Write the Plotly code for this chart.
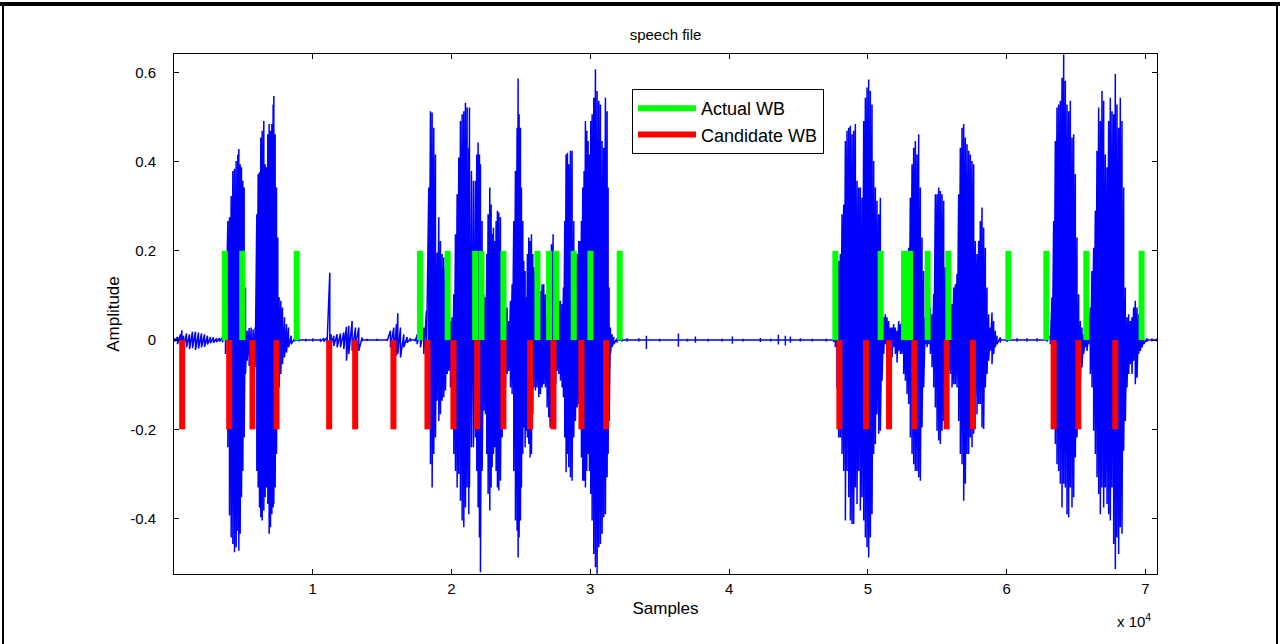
import plotly.graph_objects as go

# ---- speech waveform envelope (sample index, positive peak, negative peak)
WAVE_X = [
    36, 252, 468, 564, 685, 901, 1117, 1333, 1549, 1765, 1982, 2198, 2414, 2630, 2846, 3063, 3279, 3495, 3711,
    3879, 3999, 4119, 4240, 4360, 4480, 4600, 4672, 4768, 4864, 4960, 5056, 5152, 5272, 5416, 5561, 5705, 5849,
    5969, 6065, 6161, 6257, 6353, 6473, 6569, 6665, 6762, 6858, 6954, 7050, 7146, 7194, 7290, 7386, 7482, 7578,
    7698, 7818, 7963, 8107, 8251, 8443, 8683,
    9000, 9500, 10000, 10555,
    10795, 11035, 11228, 11324, 11516, 11756, 11996, 12236, 12429, 12597, 12837, 13077, 13317, 13558, 13918,
    14638, 15359, 15599, 15839, 16032, 16128, 16320, 16560, 16800, 17040, 17400, 17521, 17761, 18001, 18193,
    18362, 18482, 18602, 18722, 18842, 18962, 19082, 19202, 19322, 19442, 19563, 19683, 19803, 19923, 20043,
    20163, 20283, 20403, 20523, 20643, 20764, 20884, 21004, 21124, 21244,
    21291, 21435, 21579, 21724, 21820, 21916, 22012, 22084, 22204, 22324, 22444, 22540, 22636, 22756, 22853,
    22925, 23021, 23117, 23213, 23309, 23405, 23525, 23645, 23765, 23885, 24006, 24126, 24246, 24366, 24486,
    24606, 24726, 24798, 24870, 24966, 25038, 25134, 25207, 25303, 25375, 25471, 25567, 25663, 25759, 25855,
    25927, 26047, 26167, 26287, 26408, 26528, 26648, 26768, 26888, 27008, 27104, 27200, 27320, 27416, 27512,
    27609, 27729, 27849, 27969, 28065, 28161, 28257, 28353, 28449, 28569, 28689, 28810, 28930, 29050, 29170,
    29266, 29362, 29458, 29554, 29650, 29746, 29842, 29938, 30035, 30131, 30251, 30371, 30491, 30611, 30731,
    30851, 30971, 31091, 31212, 31284, 31356, 31452, 31572, 31692, 31932, 32292, 32653,
    33500, 34043, 35000, 36350, 37000, 37575, 38500, 39500, 40240, 41000, 42257, 43000, 43554, 44058, 44418,
    45139, 46000, 47000,
    47541, 47661, 47781, 47901, 48021, 48141, 48261, 48382, 48502, 48622, 48742, 48862, 48982, 49102, 49222,
    49342, 49462, 49583, 49703, 49823, 49943, 50063, 50183, 50303, 50423, 50543, 50663, 50784, 50904, 51024,
    51144, 51264, 51384, 51504, 51624, 51744, 51864, 51985, 52105, 52225, 52345, 52465, 52585, 52705, 52825,
    52945, 53065, 53186, 53306, 53426, 53546, 53666, 53786, 53906, 54026, 54146, 54266, 54387, 54507, 54627,
    54747, 54867, 54987, 55107, 55227, 55347, 55467, 55588, 55708, 55828, 55948, 56068, 56188, 56308, 56428,
    56548, 56668, 56789, 56909, 57029, 57149, 57269, 57389, 57509, 57629,
    57748, 57868, 57989, 58109, 58229, 58349, 58469, 58589, 58709, 58829, 58949, 59069, 59190, 59310, 59550,
    60030, 60751, 61471, 62192, 62913, 63153, 63273, 63393, 63513, 63633, 63753, 63873, 63994, 64114, 64234,
    64354, 64474, 64594, 64714, 64834, 64954, 65074, 65195, 65315, 65435, 65555, 65675, 65795, 65915, 66035,
    66155, 66275, 66396, 66516, 66636, 66756, 66876, 66996, 67116, 67236, 67356, 67476, 67597, 67717, 67837,
    67957, 68077, 68197, 68317, 68437, 68557, 68677, 68797, 68917, 69037, 69157, 69277, 69398, 69518, 69638,
    69758, 69878, 70118, 70478, 70838,
]
WAVE_UP = [
    0.004, 0.007, 0.013, 0.022, 0.010, 0.015, 0.013, 0.019, 0.019, 0.017, 0.015, 0.013, 0.010, 0.007, 0.006, 0.004, 0.004, 0.006, 0.043,
    0.267, 0.275, 0.323, 0.379, 0.384, 0.401, 0.416, 0.428, 0.394, 0.387, 0.357, 0.342, 0.118, 0.021, 0.027, 0.028, 0.024, 0.028,
    0.282, 0.372, 0.376, 0.454, 0.469, 0.491, 0.394, 0.387, 0.461, 0.484, 0.469, 0.484, 0.528, 0.547, 0.461, 0.342, 0.230, 0.096,
    0.088, 0.073, 0.051, 0.036, 0.028, 0.010, 0.004,
    0.004, 0.003, 0.004, 0.003,
    0.004, 0.006, 0.151, 0.013, 0.010, 0.013, 0.015, 0.017, 0.030, 0.032, 0.043, 0.028, 0.028, 0.006, 0.003,
    0.003, 0.003, 0.021, 0.028, 0.036, 0.060, 0.028, 0.013, 0.007, 0.004, 0.004, 0.013, 0.021, 0.028, 0.066,
    0.342, 0.513, 0.510, 0.476, 0.416, 0.196, 0.275, 0.222, 0.193, 0.185, 0.163, 0.103, 0.058, 0.043, 0.051,
    0.103, 0.237, 0.327, 0.409, 0.491, 0.506, 0.513, 0.532, 0.521, 0.431,
    0.521, 0.379, 0.357, 0.357, 0.416, 0.443, 0.416, 0.394, 0.267, 0.103, 0.096, 0.193, 0.282, 0.342, 0.304,
    0.237, 0.252, 0.222, 0.267, 0.290, 0.286, 0.275, 0.193, 0.118, 0.118, 0.073, 0.043, 0.088, 0.125, 0.267,
    0.379, 0.476, 0.586, 0.506, 0.476, 0.342, 0.267, 0.178, 0.155, 0.096, 0.193, 0.230, 0.222, 0.237, 0.193,
    0.163, 0.155, 0.133, 0.118, 0.110, 0.125, 0.125, 0.103, 0.058, 0.163, 0.193, 0.215, 0.237, 0.193, 0.118,
    0.103, 0.088, 0.088, 0.081, 0.118, 0.267, 0.416, 0.420, 0.394, 0.424, 0.424, 0.267, 0.178, 0.193, 0.222,
    0.222, 0.267, 0.342, 0.379, 0.491, 0.469, 0.446, 0.416, 0.491, 0.506, 0.543, 0.607, 0.558, 0.536, 0.528,
    0.446, 0.431, 0.543, 0.513, 0.342, 0.118, 0.028, 0.013, 0.007, 0.004, 0.004, 0.004,
    0.004, 0.010, 0.003, 0.015, 0.003, 0.008, 0.003, 0.003, 0.008, 0.003, 0.005, 0.003, 0.012, 0.010, 0.008,
    0.004, 0.003, 0.003,
    0.004, 0.021, 0.118, 0.178, 0.193, 0.282, 0.304, 0.446, 0.469, 0.476, 0.480, 0.461, 0.469, 0.484, 0.357,
    0.342, 0.342, 0.319, 0.491, 0.543, 0.566, 0.584, 0.558, 0.528, 0.401, 0.342, 0.312, 0.282, 0.319, 0.058,
    0.051, 0.058, 0.051, 0.043, 0.028, 0.028, 0.036, 0.028, 0.021, 0.043, 0.036, 0.058, 0.073, 0.118, 0.118,
    0.207, 0.319, 0.394, 0.431, 0.446, 0.416, 0.461, 0.342, 0.230, 0.155, 0.051, 0.043, 0.043, 0.073, 0.058,
    0.103, 0.327, 0.327, 0.342, 0.334, 0.327, 0.312, 0.163, 0.118, 0.103, 0.096, 0.081, 0.118, 0.125, 0.148,
    0.327, 0.431, 0.476, 0.484, 0.454, 0.439, 0.424, 0.416, 0.401, 0.394,
    0.222, 0.193, 0.222, 0.267, 0.297, 0.252, 0.207, 0.118, 0.058, 0.028, 0.062, 0.043, 0.021, 0.010, 0.006,
    0.004, 0.004, 0.004, 0.004, 0.004, 0.010, 0.096, 0.267, 0.446, 0.521, 0.528, 0.536, 0.588, 0.640, 0.581,
    0.528, 0.513, 0.536, 0.454, 0.461, 0.372, 0.230, 0.103, 0.043, 0.028, 0.013, 0.006, 0.021, 0.013, 0.073,
    0.155, 0.207, 0.290, 0.424, 0.521, 0.491, 0.558, 0.536, 0.416, 0.387, 0.491, 0.543, 0.513, 0.506, 0.596,
    0.528, 0.476, 0.543, 0.491, 0.342, 0.118, 0.051, 0.058, 0.043, 0.051, 0.073, 0.088, 0.073, 0.058, 0.028,
    0.013, 0.006, 0.004, 0.004, 0.004,
]
WAVE_LO = [
    -0.003, -0.009, -0.010, -0.006, -0.016, -0.016, -0.020, -0.018, -0.022, -0.019, -0.016, -0.015, -0.010, -0.007, -0.006, -0.004, -0.003, -0.005, -0.031,
    -0.240, -0.393, -0.442, -0.457, -0.475, -0.464, -0.427, -0.472, -0.434, -0.352, -0.293, -0.218, -0.076, -0.046, -0.058, -0.069, -0.080, -0.061,
    -0.293, -0.330, -0.375, -0.397, -0.404, -0.382, -0.352, -0.330, -0.367, -0.434, -0.419, -0.390, -0.375, -0.367, -0.330, -0.255, -0.181, -0.106,
    -0.076, -0.054, -0.039, -0.028, -0.016, -0.009, -0.003,
    -0.003, -0.003, -0.003, -0.003,
    -0.003, -0.005, -0.009, -0.009, -0.013, -0.016, -0.016, -0.020, -0.046, -0.031, -0.024, -0.013, -0.024, -0.003, -0.002,
    -0.002, -0.002, -0.016, -0.043, -0.035, -0.031, -0.039, -0.016, -0.006, -0.003, -0.003, -0.009, -0.016, -0.031, -0.039,
    -0.181, -0.278, -0.330, -0.255, -0.218, -0.136, -0.181, -0.166, -0.136, -0.128, -0.113, -0.076, -0.069, -0.106, -0.181,
    -0.255, -0.293, -0.330, -0.300, -0.360, -0.404, -0.419, -0.375, -0.330, -0.390,
    -0.330, -0.240, -0.240, -0.218, -0.293, -0.375, -0.442, -0.520, -0.293, -0.158, -0.166, -0.255, -0.345, -0.382, -0.330,
    -0.285, -0.255, -0.240, -0.293, -0.330, -0.337, -0.315, -0.218, -0.143, -0.106, -0.076, -0.069, -0.106, -0.121, -0.293,
    -0.404, -0.427, -0.487, -0.442, -0.404, -0.330, -0.255, -0.196, -0.240, -0.203, -0.218, -0.233, -0.263, -0.255, -0.166,
    -0.106, -0.113, -0.106, -0.128, -0.121, -0.106, -0.099, -0.106, -0.151, -0.173, -0.196, -0.181, -0.196, -0.143, -0.099,
    -0.069, -0.076, -0.091, -0.106, -0.128, -0.218, -0.296, -0.255, -0.285, -0.307, -0.315, -0.218, -0.181, -0.151, -0.143,
    -0.196, -0.263, -0.315, -0.315, -0.330, -0.293, -0.255, -0.293, -0.345, -0.404, -0.479, -0.509, -0.524, -0.464, -0.457,
    -0.434, -0.397, -0.390, -0.307, -0.255, -0.181, -0.031, -0.016, -0.009, -0.006, -0.003, -0.003,
    -0.003, -0.020, -0.003, -0.015, -0.003, -0.006, -0.003, -0.003, -0.008, -0.003, -0.004, -0.003, -0.010, -0.012, -0.006,
    -0.003, -0.003, -0.003,
    -0.004, -0.016, -0.106, -0.218, -0.218, -0.255, -0.293, -0.404, -0.293, -0.352, -0.404, -0.412, -0.412, -0.330, -0.367,
    -0.293, -0.382, -0.352, -0.404, -0.442, -0.464, -0.487, -0.442, -0.390, -0.255, -0.233, -0.166, -0.210, -0.203, -0.091,
    -0.031, -0.009, -0.024, -0.024, -0.031, -0.039, -0.016, -0.031, -0.050, -0.024, -0.031, -0.031, -0.076, -0.091, -0.121,
    -0.143, -0.218, -0.255, -0.278, -0.293, -0.293, -0.307, -0.315, -0.196, -0.106, -0.009, -0.016, -0.009, -0.031, -0.061,
    -0.106, -0.151, -0.203, -0.225, -0.233, -0.203, -0.181, -0.151, -0.106, -0.069, -0.076, -0.106, -0.099, -0.099, -0.106,
    -0.181, -0.255, -0.278, -0.360, -0.322, -0.255, -0.255, -0.218, -0.240, -0.210,
    -0.128, -0.166, -0.143, -0.143, -0.196, -0.199, -0.106, -0.076, -0.046, -0.024, -0.054, -0.031, -0.016, -0.009, -0.006,
    -0.004, -0.003, -0.003, -0.003, -0.003, -0.009, -0.106, -0.181, -0.233, -0.278, -0.293, -0.322, -0.375, -0.322, -0.330,
    -0.390, -0.397, -0.330, -0.375, -0.352, -0.263, -0.218, -0.106, -0.091, -0.061, -0.031, -0.016, -0.024, -0.009, -0.076,
    -0.106, -0.203, -0.255, -0.307, -0.345, -0.390, -0.330, -0.375, -0.330, -0.367, -0.390, -0.404, -0.330, -0.457, -0.513,
    -0.442, -0.479, -0.419, -0.434, -0.248, -0.181, -0.106, -0.076, -0.054, -0.076, -0.046, -0.099, -0.084, -0.031, -0.024,
    -0.016, -0.009, -0.004, -0.003, -0.003,
]

# ---- word boundaries (sample index)
ACTUAL_WB = [3660, 4921, 8841, 17724, 19720, 21701, 22155, 23740, 26190, 27033, 27538, 28806, 30009, 32120,
             47661, 50925, 52611, 53043, 54311, 55803, 60126, 62864, 65746, 69730]
CANDIDATE_WB = [591, 3977, 5656, 7385, 11182, 13055, 15815, 18265, 20138, 21853, 23740, 25664, 27343, 29360,
                31140, 47949, 49873, 51530, 53353, 55680, 57582, 63390, 65169, 67835]
ACTUAL_LEVEL = 0.2
CANDIDATE_LEVEL = -0.2

X_TICKS = [10000, 20000, 30000, 40000, 50000, 60000, 70000]
X_TICK_LABELS = ["1", "2", "3", "4", "5", "6", "7"]
Y_TICKS = [-0.4, -0.2, 0, 0.2, 0.4, 0.6]
Y_TICK_LABELS = ["-0.4", "-0.2", "0", "0.2", "0.4", "0.6"]
X_RANGE = [0, 70840]
Y_RANGE = [-0.524, 0.641]

FONT = "Liberation Sans, Arial, Helvetica, sans-serif"

# waveform as strokes between the envelope values; long quiet stretches pass through zero
wx, wy = [], []
n = len(WAVE_X)
for i, (x, u, l) in enumerate(zip(WAVE_X, WAVE_UP, WAVE_LO)):
    gap_before = i > 0 and (x - WAVE_X[i - 1]) > 300
    gap_after = i < n - 1 and (WAVE_X[i + 1] - x) > 300
    if gap_before:
        wx.append(x); wy.append(0)
    wx += [x, x]
    wy += [u, l]
    if gap_after:
        wx.append(x); wy.append(0)


def stems(xs, level):
    sx, sy = [], []
    for x in xs:
        sx += [x, x, None]
        sy += [0, level, None]
    return sx, sy


ax_, ay_ = stems(ACTUAL_WB, ACTUAL_LEVEL)
cx_, cy_ = stems(CANDIDATE_WB, CANDIDATE_LEVEL)

fig = go.Figure()
fig.add_trace(go.Scatter(x=wx, y=wy, mode="lines", line=dict(color="#0000FF", width=1.5),
                         showlegend=False, hoverinfo="skip", name="speech"))
fig.add_trace(go.Scatter(x=ax_, y=ay_, mode="lines", line=dict(color="#00FF00", width=6),
                         name="Actual WB", connectgaps=False))
fig.add_trace(go.Scatter(x=cx_, y=cy_, mode="lines", line=dict(color="#FF0000", width=6),
                         name="Candidate WB", connectgaps=False))

L, R, T, B = 174, 1157, 54, 574
W, H = 1280, 644


def px_x(p):
    return (p - L) / (R - L)


def px_y(p):
    return (B - p) / (B - T)


axis_common = dict(showline=True, linecolor="black", linewidth=1, mirror="ticks", ticks="inside",
                   ticklen=5, tickcolor="black", showgrid=False, zeroline=False,
                   tickfont=dict(family=FONT, size=15, color="black"))

fig.update_layout(
    width=W, height=H,
    margin=dict(l=L, r=W - R, t=T, b=H - B, autoexpand=False),
    paper_bgcolor="white", plot_bgcolor="white",
    font=dict(family=FONT, color="black"),
    title=dict(text="speech file", x=0.5, xref="paper", y=(H - 35) / H, yanchor="middle",
               font=dict(family=FONT, size=15, color="black")),
    xaxis=dict(range=X_RANGE, tickvals=X_TICKS, ticktext=X_TICK_LABELS, ticklabelstandoff=1,
               title=dict(text="Samples", font=dict(family=FONT, size=17, color="black"), standoff=6),
               **axis_common),
    yaxis=dict(range=Y_RANGE, tickvals=Y_TICKS, ticktext=Y_TICK_LABELS, ticklabelstandoff=14,
               title=dict(text="Amplitude", font=dict(family=FONT, size=17, color="black"), standoff=6),
               **axis_common),
    legend=dict(x=px_x(632), y=px_y(89), xanchor="left", yanchor="top", bgcolor="white",
                bordercolor="black", borderwidth=1, font=dict(family=FONT, size=18, color="black"),
                itemwidth=58, tracegroupgap=0),
    annotations=[dict(text="x 10<sup>4</sup>", xref="paper", yref="paper", x=px_x(1153), y=px_y(620),
                      xanchor="right", yanchor="middle", showarrow=False,
                      font=dict(family=FONT, size=15, color="black"))],
    shapes=[
        dict(type="line", xref="paper", yref="paper", x0=px_x(0), x1=px_x(W), y0=px_y(4), y1=px_y(4),
             line=dict(color="black", width=4)),
        dict(type="line", xref="paper", yref="paper", x0=px_x(3), x1=px_x(3), y0=px_y(2), y1=px_y(H + 2),
             line=dict(color="black", width=2)),
        dict(type="line", xref="paper", yref="paper", x0=px_x(1277), x1=px_x(1277), y0=px_y(2), y1=px_y(H + 2),
             line=dict(color="black", width=2)),
    ],
)

fig.write_html("out.html")
